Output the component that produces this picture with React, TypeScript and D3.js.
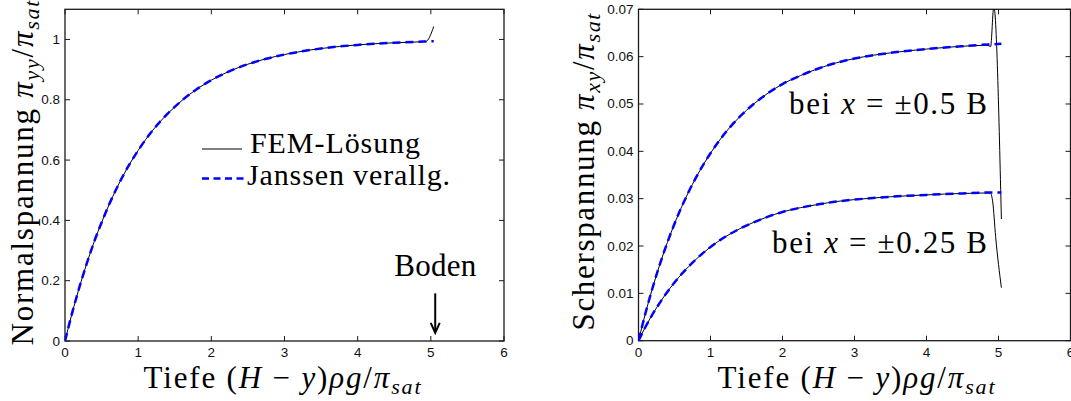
import React from 'react';
import * as d3 from 'd3';

// depth values (H - y) rho g / pi_sat
const depth = [0, 0.1, 0.2, 0.3, 0.4, 0.5, 0.6, 0.8, 1.0, 1.2, 1.4, 1.6, 1.8, 2.0, 2.25, 2.5, 2.75, 3.0, 3.5, 4.0, 4.5, 4.89, 5.04];

// left panel: normal stress
const normJanssen = [0, 0.095, 0.181, 0.259, 0.33, 0.393, 0.451, 0.551, 0.632, 0.699, 0.753, 0.798, 0.835, 0.865, 0.895, 0.918, 0.936, 0.95, 0.97, 0.982, 0.989, 0.993, 0.994];
const normFemDepth = [0, 0.1, 0.2, 0.3, 0.4, 0.5, 0.6, 0.8, 1.0, 1.2, 1.4, 1.6, 1.8, 2.0, 2.25, 2.5, 2.75, 3.0, 3.5, 4.0, 4.5, 4.93, 5.04];
const normFem = [0, 0.095, 0.181, 0.259, 0.33, 0.393, 0.451, 0.551, 0.632, 0.699, 0.753, 0.798, 0.835, 0.865, 0.895, 0.918, 0.936, 0.95, 0.97, 0.982, 0.989, 0.993, 1.043];

// right panel: shear stress at x = +-0.5 B and x = +-0.25 B
const shearJanssenOuter = [0, 0.006, 0.0114, 0.0163, 0.0207, 0.0247, 0.0283, 0.0345, 0.0396, 0.0438, 0.0472, 0.05, 0.0523, 0.0542, 0.056, 0.0575, 0.0587, 0.0596, 0.0608, 0.0616, 0.0622, 0.0626, 0.0627];
const shearJanssenInner = [0, 0.003, 0.0057, 0.0081, 0.0103, 0.0123, 0.0141, 0.0172, 0.0198, 0.0219, 0.0236, 0.025, 0.0262, 0.0272, 0.0281, 0.0288, 0.0294, 0.0298, 0.0304, 0.0308, 0.0311, 0.0313, 0.0313];
const shearFemOuterDepth = [0, 0.1, 0.2, 0.3, 0.4, 0.5, 0.6, 0.8, 1.0, 1.2, 1.4, 1.6, 1.8, 2.0, 2.25, 2.5, 2.75, 3.0, 3.5, 4.0, 4.5, 4.85, 4.89, 4.935, 5.04];
const shearFemOuter = [0, 0.006, 0.0114, 0.0163, 0.0207, 0.0247, 0.0283, 0.0345, 0.0396, 0.0438, 0.0472, 0.05, 0.0523, 0.0542, 0.056, 0.0575, 0.0587, 0.0596, 0.0608, 0.0616, 0.0622, 0.0624, 0.0621, 0.0706, 0.0257];
const shearFemInnerDepth = [0, 0.1, 0.2, 0.3, 0.4, 0.5, 0.6, 0.8, 1.0, 1.2, 1.4, 1.6, 1.8, 2.0, 2.25, 2.5, 2.75, 3.0, 3.5, 4.0, 4.5, 4.85, 4.89, 4.92, 4.96, 5.04];
const shearFemInner = [0, 0.003, 0.0057, 0.0081, 0.0103, 0.0123, 0.0141, 0.0172, 0.0198, 0.0219, 0.0236, 0.025, 0.0262, 0.0272, 0.0281, 0.0288, 0.0294, 0.0298, 0.0304, 0.0308, 0.0311, 0.0312, 0.0311, 0.0293, 0.022, 0.0112];

const xTicks = [0, 1, 2, 3, 4, 5, 6];
const normTicks = [0, 0.2, 0.4, 0.6, 0.8, 1];
const shearTicks = [0, 0.01, 0.02, 0.03, 0.04, 0.05, 0.06, 0.07];

const SERIF = '"Liberation Serif", "Times New Roman", serif';
const SANS = '"Liberation Sans", Arial, sans-serif';
const BLUE = '#0000ff';
const DASH = '8,5';

const zip = (xs: number[], ys: number[]) => xs.map((x, i) => [x, ys[i]] as [number, number]);

function Frame({ x, y, yTicks, id }: any) {
  const [x0, x1] = x.range();
  const [y0, y1] = y.range();
  const fmt = d3.format('~g');
  const tl = 5;
  return (
    <g>
      <rect x={x0} y={y1} width={x1 - x0} height={y0 - y1} fill="none" stroke="#1a1a1a" strokeWidth={1.3} />
      {xTicks.map(t => (
        <g key={'x' + t}>
          <line x1={x(t)} x2={x(t)} y1={y0} y2={y0 - tl} stroke="#1a1a1a" />
          <line x1={x(t)} x2={x(t)} y1={y1} y2={y1 + tl} stroke="#1a1a1a" />
          <text x={x(t)} y={y0 + 16} textAnchor="middle" fontFamily={SANS} fontSize={13.5} fill="#111">{fmt(t)}</text>
        </g>
      ))}
      {yTicks.map((t: number) => (
        <g key={'y' + t}>
          <line x1={x0} x2={x0 + tl} y1={y(t)} y2={y(t)} stroke="#1a1a1a" />
          <line x1={x1} x2={x1 - tl} y1={y(t)} y2={y(t)} stroke="#1a1a1a" />
          <text x={x0 - 5} y={y(t) + 4.5} textAnchor="end" fontFamily={SANS} fontSize={13.5} fill="#111">{fmt(t)}</text>
        </g>
      ))}
      <clipPath id={id}>
        <rect x={x0} y={y1} width={x1 - x0} height={y0 - y1} />
      </clipPath>
    </g>
  );
}

function XLabel({ cx, y }: { cx: number; y: number }) {
  return (
    <text x={cx} y={y} textAnchor="middle" fontFamily={SERIF} fontSize={31} textLength={277} lengthAdjust="spacing">
      Tiefe (<tspan fontStyle="italic">H</tspan> − <tspan fontStyle="italic">y</tspan>)<tspan fontStyle="italic">ρg</tspan>/<tspan fontStyle="italic">π</tspan>
      <tspan fontStyle="italic" fontSize={22} dy={6}>sat</tspan>
    </text>
  );
}

export default function App() {
  const W = 1071;
  const H = 401;

  const xL = d3.scaleLinear().domain([0, 6]).range([65, 504]);
  const yL = d3.scaleLinear().domain([0, 1.1]).range([341, 9.3]);
  const xR = d3.scaleLinear().domain([0, 6]).range([638.5, 1070.5]);
  const yR = d3.scaleLinear().domain([0, 0.07]).range([340.7, 9.3]);

  const lineL = d3.line<[number, number]>().x(d => xL(d[0])).y(d => yL(d[1])).curve(d3.curveMonotoneX);
  const lineR = d3.line<[number, number]>().x(d => xR(d[0])).y(d => yR(d[1])).curve(d3.curveMonotoneX);

  return (
    <svg width={W} height={H} style={{ position: 'absolute', left: 0, top: 0, display: 'block', background: '#fff' }}>
      <rect width={W} height={H} fill="#fff" />

      {/* left panel */}
      <Frame x={xL} y={yL} yTicks={normTicks} id="clipL" />
      <g clipPath="url(#clipL)">
        <path d={lineL(zip(normFemDepth, normFem)) || ''} fill="none" stroke="#000" strokeWidth={1} />
        <path d={lineL(zip(depth, normJanssen)) || ''} fill="none" stroke={BLUE} strokeWidth={2.5} strokeDasharray={DASH} />
      </g>
      <text transform={`translate(33,${173}) rotate(-90)`} textAnchor="middle" fontFamily={SERIF} fontSize={31} textLength={345} lengthAdjust="spacing">
        Normalspannung <tspan fontStyle="italic">π</tspan>
        <tspan fontStyle="italic" fontSize={22} dy={6}>yy</tspan>
        <tspan dy={-6}>/</tspan><tspan fontStyle="italic">π</tspan>
        <tspan fontStyle="italic" fontSize={22} dy={6}>sat</tspan>
      </text>
      <XLabel cx={282} y={388} />

      {/* legend */}
      <line x1={202} x2={242} y1={149} y2={149} stroke="#000" strokeWidth={1} />
      <text x={250} y={153} fontFamily={SERIF} fontSize={30} textLength={170} lengthAdjust="spacing">FEM-Lösung</text>
      <line x1={202} x2={244} y1={178.5} y2={178.5} stroke={BLUE} strokeWidth={2.5} strokeDasharray="7,4.5" />
      <text x={247} y={185} fontFamily={SERIF} fontSize={30} textLength={203} lengthAdjust="spacing">Janssen verallg.</text>

      {/* Boden annotation */}
      <text x={xL(5.06)} y={276} textAnchor="middle" fontFamily={SERIF} fontSize={31} textLength={82} lengthAdjust="spacing">Boden</text>
      <line x1={xL(5.06)} x2={xL(5.06)} y1={yL(0.158)} y2={yL(0.03)} stroke="#000" strokeWidth={2} />
      <path d={`M${xL(5.06) - 4.5},${yL(0.06)} L${xL(5.06)},${yL(0.027)} L${xL(5.06) + 4.5},${yL(0.06)}`} fill="none" stroke="#000" strokeWidth={2} />

      {/* right panel */}
      <Frame x={xR} y={yR} yTicks={shearTicks} id="clipR" />
      <g clipPath="url(#clipR)">
        <path d={lineR(zip(shearFemOuterDepth, shearFemOuter)) || ''} fill="none" stroke="#000" strokeWidth={1} />
        <path d={lineR(zip(shearFemInnerDepth, shearFemInner)) || ''} fill="none" stroke="#000" strokeWidth={1} />
        <path d={lineR(zip(depth, shearJanssenOuter)) || ''} fill="none" stroke={BLUE} strokeWidth={2.5} strokeDasharray={DASH} />
        <path d={lineR(zip(depth, shearJanssenInner)) || ''} fill="none" stroke={BLUE} strokeWidth={2.5} strokeDasharray={DASH} />
      </g>
      <text transform={`translate(594,${172}) rotate(-90)`} textAnchor="middle" fontFamily={SERIF} fontSize={31} textLength={317} lengthAdjust="spacing">
        Scherspannung <tspan fontStyle="italic">π</tspan>
        <tspan fontStyle="italic" fontSize={22} dy={6}>xy</tspan>
        <tspan dy={-6}>/</tspan><tspan fontStyle="italic">π</tspan>
        <tspan fontStyle="italic" fontSize={22} dy={6}>sat</tspan>
      </text>
      <XLabel cx={856} y={388} />

      <text x={987} y={114} textAnchor="end" fontFamily={SERIF} fontSize={31} textLength={198} lengthAdjust="spacing">
        bei <tspan fontStyle="italic">x</tspan> = ±0.5 B
      </text>
      <text x={987} y={253} textAnchor="end" fontFamily={SERIF} fontSize={31} textLength={215} lengthAdjust="spacing">
        bei <tspan fontStyle="italic">x</tspan> = ±0.25 B
      </text>
    </svg>
  );
}
